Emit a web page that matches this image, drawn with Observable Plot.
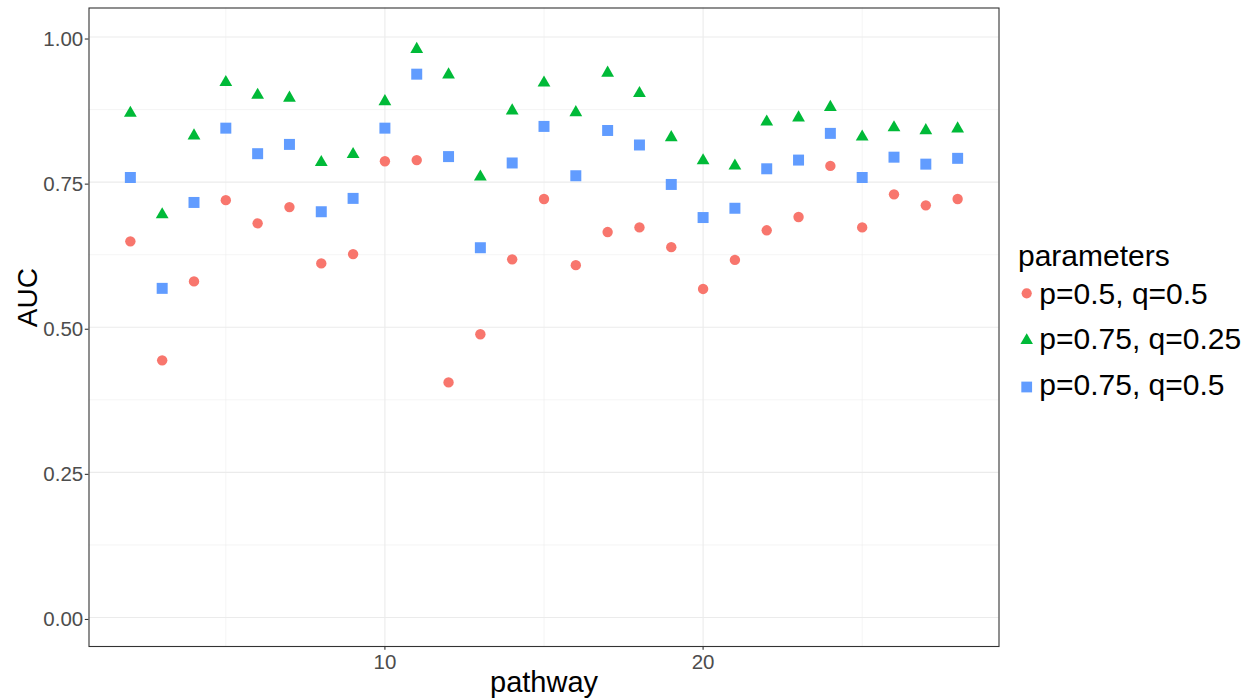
<!DOCTYPE html>
<html>
<head>
<meta charset="utf-8">
<script src="https://cdn.jsdelivr.net/npm/d3@7"></script>
<script src="https://cdn.jsdelivr.net/npm/@observablehq/plot@0.6"></script>
<style>
  html, body { margin: 0; padding: 0; background: #fff; }
  #wrap { position: relative; width: 1247px; height: 700px; font-family: "Liberation Sans", Arial, Helvetica, sans-serif; }
  #legend { position: absolute; left: 1000px; top: 0; }
</style>
</head>
<body>
<div id="wrap"></div>
<script>
// ---- data ----
const pathway = [2,3,4,5,6,7,8,9,10,11,12,13,14,15,16,17,18,19,20,21,22,23,24,25,26,27,28];
const aucP05Q05 = [0.648,0.443,0.579,0.719,0.679,0.707,0.610,0.626,0.786,
                   0.788,0.405,0.488,0.617,0.721,0.607,0.664,0.672,0.638,
                   0.566,0.616,0.667,0.690,0.778,0.672,0.729,0.710,0.721];
const aucP075Q025 = [0.869,0.694,0.830,0.922,0.900,0.895,0.784,0.798,0.889,
                     0.979,0.935,0.759,0.873,0.921,0.870,0.938,0.903,0.827,
                     0.787,0.778,0.854,0.861,0.879,0.828,0.844,0.839,0.842];
const aucP075Q05 = [0.758,0.567,0.715,0.843,0.799,0.815,0.699,0.722,0.843,
                    0.936,0.794,0.637,0.783,0.846,0.761,0.839,0.814,0.746,
                    0.689,0.705,0.773,0.788,0.834,0.758,0.793,0.781,0.791];
const seriesNames = ["p=0.5, q=0.5", "p=0.75, q=0.25", "p=0.75, q=0.5"];
const seriesValues = [aucP05Q05, aucP075Q025, aucP075Q05];
const seriesColors = ["#F8766D", "#00BA38", "#619CFF"];
const seriesSymbols = ["circle", "triangle", "square"];
const seriesRadius = [5.2, 4.75, 6.2];
const legendTitle = "parameters";
const xTicks = [10, 20];
const xMinor = [5, 15, 25];
const yTicks = [0, 0.25, 0.5, 0.75, 1];
const yMinor = [0.125, 0.375, 0.625, 0.875];
const yTickLabels = ["0.00", "0.25", "0.50", "0.75", "1.00"];
const xTitle = "pathway";
const yTitle = "AUC";

// ---- table ----
const rows = seriesNames.flatMap((s, k) =>
  pathway.map((p, i) => ({pathway: p, auc: seriesValues[k][i], series: s})));

const font = "'Liberation Sans', Arial, Helvetica, sans-serif";

const chart = Plot.plot({
  width: 1247,
  height: 700,
  marginLeft: 88.5,
  marginRight: 248.5,
  marginTop: 7.5,
  marginBottom: 54,
  style: {fontFamily: font, background: "#fff", overflow: "visible"},
  x: {domain: [0.7, 29.3], axis: null},
  y: {domain: [-0.05, 1.05], axis: null},
  color: {domain: seriesNames, range: seriesColors},
  symbol: {domain: seriesNames, range: seriesSymbols},
  marks: [
    Plot.ruleX(xMinor, {stroke: "#ebebeb", strokeWidth: 0.55}),
    Plot.ruleY(yMinor, {stroke: "#ebebeb", strokeWidth: 0.55}),
    Plot.ruleX(xTicks, {stroke: "#ebebeb", strokeWidth: 1.1}),
    Plot.ruleY(yTicks, {stroke: "#ebebeb", strokeWidth: 1.1}),
    ...seriesNames.map((s, k) => Plot.dot(rows, {
      filter: d => d.series === s,
      x: "pathway", y: "auc", fill: "series", symbol: "series",
      r: seriesRadius[k], stroke: "none"
    })),
    Plot.frame({stroke: "#333333", strokeWidth: 1.1}),
    Plot.axisX(xTicks, {
      tickSize: 3.7, tickPadding: 4.7, stroke: "#333333", strokeWidth: 1.1,
      fill: "#4d4d4d", fontSize: 20.5, label: null, tickFormat: d => String(d)
    }),
    Plot.axisY(yTicks, {
      tickSize: 3.7, tickPadding: 2.1, stroke: "#333333", strokeWidth: 1.1,
      fill: "#4d4d4d", fontSize: 20.5, label: null, dy: 2,
      tickFormat: d => yTickLabels[yTicks.indexOf(d)]
    }),
    Plot.text([xTitle], {frameAnchor: "bottom", text: d => d, dy: 36.7, fontSize: 29, fill: "#000", lineAnchor: "middle"}),
    Plot.text([yTitle], {frameAnchor: "left", text: d => d, dx: -60.5, rotate: -90, fontSize: 28, fill: "#000", lineAnchor: "middle"})
  ]
});

const wrap = document.getElementById("wrap");
wrap.appendChild(chart);

// ---- legend ----
const lg = d3.select(wrap).append("svg")
  .attr("id", "legend")
  .attr("width", 247).attr("height", 420)
  .style("font-family", font);
lg.append("text").attr("x", 18).attr("y", 266)
  .attr("font-size", 30).attr("fill", "#000").text(legendTitle);
const symMap = {circle: d3.symbolCircle, triangle: d3.symbolTriangle, square: d3.symbolSquare};
const rowBase = [304, 349.3, 395];
const symY = [293.3, 340.5, 387];
seriesNames.forEach((s, k) => {
  const r = seriesRadius[k] * 0.98;
  lg.append("path")
    .attr("transform", `translate(26.7,${symY[k]})`)
    .attr("d", d3.symbol(symMap[seriesSymbols[k]], r * r * Math.PI)())
    .attr("fill", seriesColors[k]);
  lg.append("text").attr("x", 39.3).attr("y", rowBase[k])
    .attr("font-size", 30).attr("fill", "#000").text(s);
});
</script>
</body>
</html>
